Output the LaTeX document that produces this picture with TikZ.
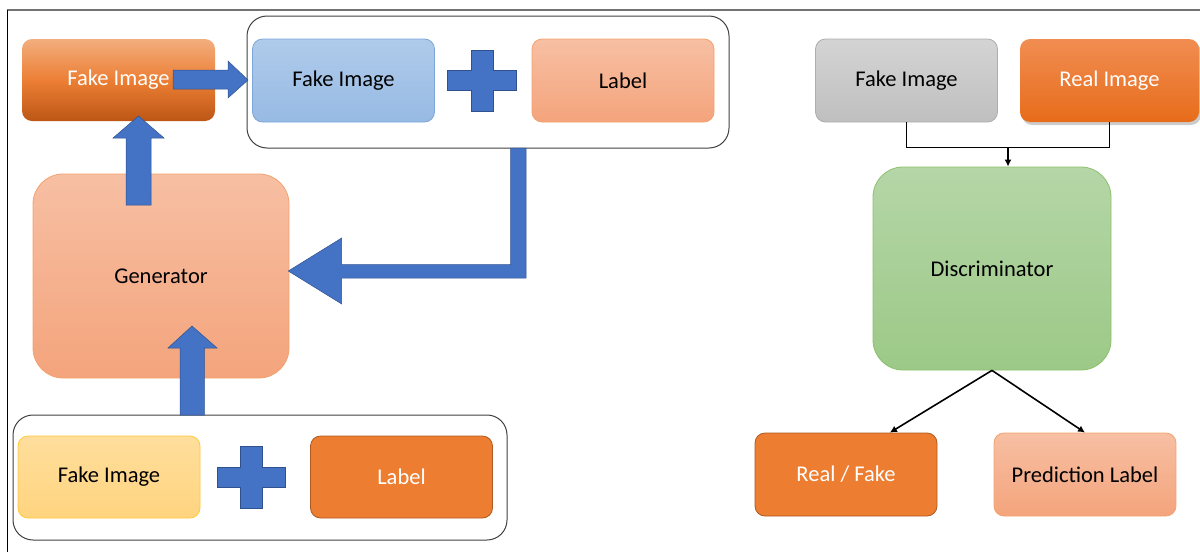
\documentclass[tikz,border=0pt]{standalone}
\usepackage{fontspec}
\setmainfont{Carlito}
\usetikzlibrary{arrows.meta,shadows,calc}
\definecolor{orD}{HTML}{ED7D31}
\definecolor{orB}{HTML}{AE5A21}
\definecolor{salT}{HTML}{F7BFA3}
\definecolor{salB}{HTML}{F4A47C}
\definecolor{salE}{HTML}{F3A26E}
\definecolor{bluT}{HTML}{AFCBEA}
\definecolor{bluB}{HTML}{97BAE4}
\definecolor{bluE}{HTML}{7DA7D9}
\definecolor{yelT}{HTML}{FFDE9C}
\definecolor{yelB}{HTML}{FFD47F}
\definecolor{yelE}{HTML}{FFCA3A}
\definecolor{gryT}{HTML}{D4D4D4}
\definecolor{gryB}{HTML}{BFBFBF}
\definecolor{gryE}{HTML}{ADADAD}
\definecolor{reT}{HTML}{F18D52}
\definecolor{reB}{HTML}{E76C1A}
\definecolor{grnT}{HTML}{B5D6A7}
\definecolor{grnB}{HTML}{9CC987}
\definecolor{grnE}{HTML}{8CC06D}
\definecolor{fiT}{HTML}{F2AE7E}
\definecolor{fiM}{HTML}{EC7F35}
\definecolor{fiB}{HTML}{BD5615}
\definecolor{arrF}{HTML}{4472C4}
\definecolor{arrE}{HTML}{2F528F}
\tikzset{
  box/.style={rectangle, rounded corners=10pt, inner sep=0pt, align=center, line width=0.8pt,
     font=\fontsize{22.5}{26}\selectfont, minimum width=182pt, minimum height=83pt},
  bigbox/.style={box, rounded corners=30pt},
  salmon/.style={top color=salT, bottom color=salB, draw=salE},
  darkor/.style={fill=orD, draw=orB, text=white},
  group/.style={draw=black!75, line width=1pt, rounded corners=20pt},
  blockarrow/.style={fill=arrF, draw=arrE, line width=0.5pt},
  thin/.style={draw=black, line width=1.6pt},
  thinarrow/.style={thin, -{Latex[length=7pt,width=7pt]}}
}
\begin{document}
\begin{tikzpicture}[x=1pt,y=-1pt]
\useasboundingbox (0,0) rectangle (1200,552);
% frame
\draw[draw=black!55, line width=1.5pt] (7,10) -- (1200,10);
\draw[draw=black, line width=1pt] (7,10) -- (7,552);

% group frames
\node[group, minimum width=482pt, minimum height=132pt, inner sep=0pt] (grp1) at (488,82) {};
\node[group, minimum width=494pt, minimum height=125pt, inner sep=0pt] (grp2) at (260,477.5) {};

% left nodes
\node[box, minimum width=193pt, minimum height=82pt, top color=fiT, bottom color=fiB, middle color=fiM, draw=none, text=white] (fi1) at (118.5,80) {Fake Image};
\node[box, top color=bluT, bottom color=bluB, draw=bluE] (fib) at (343.5,80.5) {Fake Image};
\node[box, salmon] (lab1) at (623,80.5) {Label};
\node[bigbox, salmon, minimum width=256pt, minimum height=204pt] (gen) at (161,276) {Generator};
\node[box, minimum height=82pt, top color=yelT, bottom color=yelB, draw=yelE] (fiy) at (109,477) {Fake Image};
\node[box, minimum height=82pt, darkor] (lab2) at (401.5,477) {Label};

% right nodes
\node[box, top color=gryT, bottom color=gryB, draw=gryE] (fig) at (906.5,80.5) {Fake Image};
\node[box, minimum width=179pt, top color=reT, bottom color=reB, draw=none, text=white,
      drop shadow={shadow xshift=2pt, shadow yshift=-3pt, opacity=0.4}] (ri) at (1109.5,80.5) {Real Image};
\node[bigbox, top color=grnT, bottom color=grnB, draw=grnE, minimum width=238pt, minimum height=203pt] (disc) at (992,268.5) {Discriminator};
\node[box, darkor] (rf) at (846,474.5) {Real / Fake};
\node[box, salmon] (pl) at (1085,474.5) {Prediction Label};

% block arrows
\draw[blockarrow] (173,70) -- (228,70) -- (228,61) -- (248,80) -- (228,98) -- (228,89) -- (173,89) -- cycle;
\draw[blockarrow] (126,205) -- (126,138) -- (113,138) -- (138.5,116) -- (164,138) -- (151,138) -- (151,205) -- cycle;
\draw[blockarrow] (180,415) -- (180,348) -- (168,348) -- (192,326) -- (217,348) -- (204.3,348) -- (204.3,415) -- cycle;
\draw[blockarrow] (510.7,148) -- (526,148) -- (526,278) -- (341.7,278) -- (341.7,304) -- (288.3,271) -- (341.7,238) -- (341.7,264.7) -- (510.7,264.7) -- cycle;
% plus signs
\draw[blockarrow] (447,70.5) -- (471,70.5) -- (471,50) -- (493,50) -- (493,70.5) -- (516,70.5) -- (516,90.5) -- (493,90.5) -- (493,111) -- (471,111) -- (471,90.5) -- (447,90.5) -- cycle;
\draw[blockarrow] (217,467.5) -- (240,467.5) -- (240,446.5) -- (262,446.5) -- (262,467.5) -- (285,467.5) -- (285,487.5) -- (262,487.5) -- (262,508.5) -- (240,508.5) -- (240,487.5) -- (217,487.5) -- cycle;

% thin connectors
\coordinate (join) at ($(fig.south)!0.5!(ri.south) + (0,25)$);
\draw[thin] (fig.south) -- ++(0,25) -| (ri.south);
\draw[thinarrow] (join) -- (join |- disc.north);
\coordinate (rfin) at ($(rf.north west)!0.74!(rf.north east)$);
\draw[thinarrow] (disc.south) -- (rfin);
\draw[thinarrow] (disc.south) -- (pl.north);
\end{tikzpicture}
\end{document}
